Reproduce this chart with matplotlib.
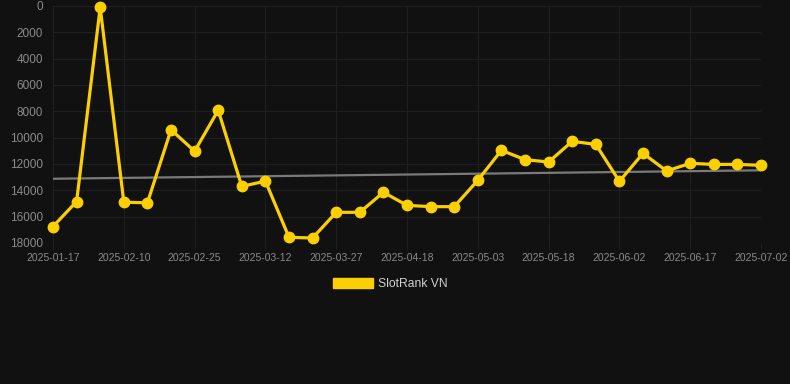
import matplotlib
matplotlib.use("Agg")
import matplotlib.pyplot as plt
import matplotlib.patches as mpatches
import numpy as np

plt.rcParams["font.family"] = ["Liberation Sans", "DejaVu Sans"]

# rank values, one per snapshot (lower number = better rank, axis is inverted)
dates = ["2025-01-17", "2025-01-25", "2025-02-02", "2025-02-10", "2025-02-15",
         "2025-02-20", "2025-02-25", "2025-03-02", "2025-03-07", "2025-03-12",
         "2025-03-17", "2025-03-22", "2025-03-27", "2025-04-03", "2025-04-11",
         "2025-04-18", "2025-04-23", "2025-04-28", "2025-05-03", "2025-05-08",
         "2025-05-13", "2025-05-18", "2025-05-23", "2025-05-28", "2025-06-02",
         "2025-06-07", "2025-06-12", "2025-06-17", "2025-06-22", "2025-06-27",
         "2025-07-02"]
ranks = [16750, 14850, 100, 14900, 14950, 9400, 11030, 7920, 13700, 13300,
         17570, 17620, 15670, 15670, 14150, 15140, 15240, 15240, 13240, 10960,
         11670, 11850, 10280, 10510, 13320, 11190, 12530, 11950, 12030, 12030,
         12100]
trend = [13120, 12480]  # start / end of the grey trend line
series_name = "SlotRank VN"

BG = "#111111"
YELLOW = "#FCCF00"
GRID = "#1f1f1f"
TICK = "#8a8a8a"

fig = plt.figure(figsize=(7.9, 3.84), dpi=100, facecolor=BG)
ax = fig.add_axes([0.0671, 0.3672, 0.8962, 0.6172])
ax.set_facecolor(BG)

x = np.arange(len(ranks))
ax.plot([x[0], x[-1]], trend, color="#7a7a7a", lw=1.6, zorder=2)
ax.plot(x, ranks, color=YELLOW, lw=2.3, marker="o", markersize=7.5,
        markerfacecolor=YELLOW, markeredgecolor=YELLOW, zorder=3, clip_on=False)

ax.set_xlim(0, len(ranks) - 1)
ax.set_ylim(18000, 0)
ax.set_yticks(np.arange(0, 18001, 2000))
ax.set_xticks(x[::3])
ax.set_xticklabels(dates[::3])

ax.grid(True, color=GRID, lw=0.8)
for s in ax.spines.values():
    s.set_visible(False)
ax.tick_params(axis="y", length=0, pad=7, labelsize=8.5, colors=TICK)
ax.tick_params(axis="x", length=4, width=0.8, color=GRID, pad=3,
               labelsize=7.5, colors=TICK)

handle = mpatches.Patch(color=YELLOW, label=series_name)
leg = fig.legend(handles=[handle], loc="center", bbox_to_anchor=(0.494, 0.26),
                 frameon=False, fontsize=8.7, handlelength=3.3, handleheight=0.95,
                 handletextpad=0.45, labelcolor="#d0d0d0")

fig.savefig("out.png", dpi=100, facecolor=BG)
